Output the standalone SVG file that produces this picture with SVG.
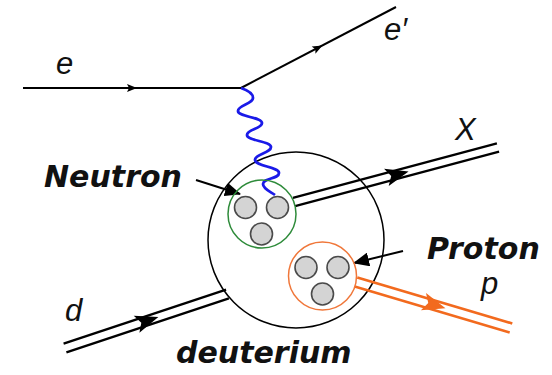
<svg xmlns="http://www.w3.org/2000/svg" width="552" height="375" viewBox="0 0 552 375">
<style>
.lbl{font-family:"DejaVu Sans",Verdana,sans-serif;font-weight:bold;font-style:italic;font-size:30px;fill:#111}
.sym{font-family:"Liberation Sans",Arial,sans-serif;font-style:italic;font-size:31px;fill:#111}
.ln{stroke:#000;stroke-width:2;fill:none}
.dbl{stroke:#000;stroke-width:2.4;fill:none}
.dblo{stroke:#f26a1e;stroke-width:2.6;fill:none}
.quark{fill:#d4d4d4;stroke:#4a4a4a;stroke-width:1.6}
</style>
<defs>
<path id="dart" d="M12,0 L-11,-9 L-6,0 L-11,9 Z"/>
<path id="small" d="M5,0 L-5,-4 L-3,0 L-5,4 Z"/>
<marker id="ah" viewBox="0 0 16 14" refX="15" refY="7" markerWidth="16" markerHeight="14" markerUnits="userSpaceOnUse" orient="auto">
<path d="M0,0 L16,7 L0,14 Z" fill="#000"/>
</marker>
</defs>
<g id="deuterium">
<circle cx="296" cy="240" r="88" fill="none" stroke="#000" stroke-width="1.5"/>
<text class="lbl" x="176" y="363">deuterium</text>
</g>
<g id="connectors">
<line class="ln" x1="23" y1="88" x2="241" y2="88"/>
<use href="#small" fill="#000" transform="translate(132,88)"/>
<line class="ln" x1="241" y1="88" x2="396" y2="7" stroke-width="1.6"/>
<use href="#small" fill="#000" transform="translate(318,47.8) rotate(-27.6)"/>
<path d="M241,88 C247,90 253,93 253,98 C253,104 238,105 238,111 C238,117 262,117 262,123 C262,129 247,129 247,135 C247,141 271,141 271,147 C271,153 255,154 255,160 C255,166 279,167 279,173 C279,179 263,178 263,184 C263,189 271,192 275,195" fill="none" stroke="#1a1ae8" stroke-width="2.8"/>
<line class="dbl" x1="292.9" y1="197.85" x2="496.9" y2="143.35"/>
<line class="dbl" x1="295.1" y1="206.15" x2="499.1" y2="151.65"/>
<use href="#dart" fill="#000" transform="translate(397,174.5) rotate(-15)"/>
<line class="dbl" x1="63.6" y1="343.7" x2="226.1" y2="289.7"/>
<line class="dbl" x1="66.4" y1="352.3" x2="228.9" y2="298.3"/>
<use href="#dart" fill="#000" transform="translate(147,320.8) rotate(-18.4)"/>
<line class="dblo" x1="357.3" y1="277.5" x2="512.3" y2="323.5"/>
<line class="dblo" x1="354.7" y1="286.5" x2="509.7" y2="332.5"/>
<use href="#dart" fill="#f26a1e" transform="translate(434,304.8) rotate(16.5)"/>
<line class="ln" x1="196" y1="180" x2="240" y2="194" marker-end="url(#ah)"/>
<line class="ln" x1="403" y1="251" x2="354" y2="263" marker-end="url(#ah)"/>
</g>
<g id="electron-labels">
<text class="sym" x="56" y="74">e</text>
<text class="sym" x="384" y="40">e′</text>
<text class="sym" x="455" y="140">X</text>
<text class="sym" x="65" y="321">d</text>
<text class="sym" x="481" y="294" font-size="30">p</text>
</g>
<g id="neutron">
<circle cx="262" cy="214" r="34" fill="none" stroke="#2e8b3a" stroke-width="1.5"/>
<circle class="quark" cx="245.5" cy="207.5" r="11"/>
<circle class="quark" cx="277.5" cy="207.5" r="11"/>
<circle class="quark" cx="261.5" cy="234" r="11"/>
<text class="lbl" x="44" y="187">Neutron</text>
</g>
<g id="proton">
<circle cx="322.5" cy="276" r="34" fill="none" stroke="#f0773a" stroke-width="1.5"/>
<circle class="quark" cx="306" cy="267.5" r="11"/>
<circle class="quark" cx="338" cy="267.5" r="11"/>
<circle class="quark" cx="322.5" cy="294" r="11"/>
<text class="lbl" x="427" y="259">Proton</text>
</g>
</svg>
